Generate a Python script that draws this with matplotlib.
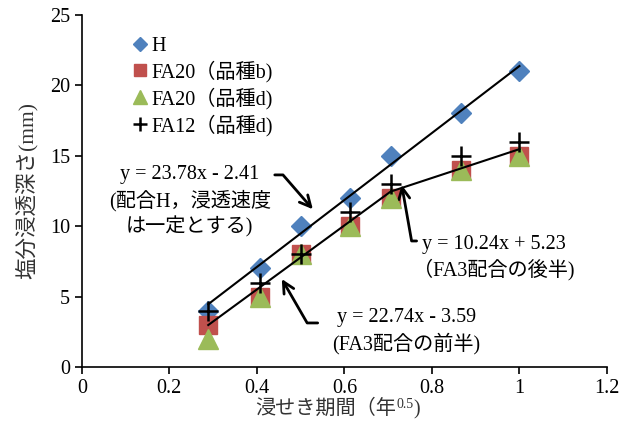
import numpy as np
from matplotlib import pyplot as plt

plt.rcParams['font.family'] = ['Liberation Serif', 'Noto Sans CJK JP']

# data
t = [0.289, 0.408, 0.5, 0.612, 0.707, 0.866, 1.0]
H = [4, 7, 10, 12, 15, 18, 21]
FA20_b = [3, 5, 8, 10, 12, 14, 15]
FA20_d = [2, 5, 8, 10, 12, 14, 15]
FA12_d = [4, 6, 8, 11, 13, 15, 16]

# trend lines (slope, intercept)
fit_H = (23.78, -2.41)
fit_first = (22.74, -3.59)
fit_second = (10.24, 5.23)

fig = plt.figure(figsize=(6.29, 4.38), dpi=100)
ax = fig.add_axes([0.130, 0.162, 0.835, 0.804])

ax.plot(t, H, 'D', color='#4F81BD', ms=10, mec='#4F81BD', label='H', zorder=3)
ax.plot(t, FA20_b, 's', color='#C0504D', ms=13, mec='#C0504D', label='FA20（品種b)', zorder=3)
ax.plot(t, FA20_d, '^', color='#9BBB59', ms=14, mec='#9BBB59', label='FA20（品種d)', zorder=4)
ax.plot(t, FA12_d, '+', color='black', ms=15, mew=1.8, label='FA12（品種d)', zorder=5)

# trend lines
xa = np.array([t[0], t[-1]])
ax.plot(xa, fit_H[0] * xa + fit_H[1], color='black', lw=1.5, zorder=6)
xb = np.array([t[0], t[4]])
ax.plot(xb, fit_first[0] * xb + fit_first[1], color='black', lw=1.5, zorder=6)
xc = np.array([t[4], t[-1]])
ax.plot(xc, fit_second[0] * xc + fit_second[1], color='black', lw=1.5, zorder=6)

# annotations
fs = 14.5
arrow = dict(arrowstyle='->', lw=2, color='black', shrinkA=0, shrinkB=0, mutation_scale=20)
ax.text(0.247, 11.75, 'y = 23.78x - 2.41\n(配合H，浸透速度\nは一定とする)', fontsize=fs,
        ha='center', va='center', linespacing=1.32)
ax.annotate('', xy=(0.528, 11.2), xytext=(0.441, 13.64),
            arrowprops=dict(arrow, connectionstyle='angle,angleA=0,angleB=-49,rad=0'))

ax.text(0.941, 7.75, 'y = 10.24x + 5.23\n（FA3配合の後半)', fontsize=fs,
        ha='center', va='center', linespacing=1.32)
ax.annotate('', xy=(0.731, 12.93), xytext=(0.765, 8.95),
            arrowprops=dict(arrow, connectionstyle='angle,angleA=180,angleB=100,rad=0'))

ax.text(0.742, 2.55, 'y = 22.74x - 3.59\n(FA3配合の前半)', fontsize=fs,
        ha='center', va='center', linespacing=1.32)
ax.annotate('', xy=(0.457, 6.25), xytext=(0.539, 3.13),
            arrowprops=dict(arrow, connectionstyle='angle,angleA=180,angleB=120,rad=0'))

ax.set_xlim(0, 1.2)
ax.set_ylim(0, 25)
ax.set_xticks(np.arange(0, 1.21, 0.2))
ax.set_xticklabels(['0', '0.2', '0.4', '0.6', '0.8', '1', '1.2'])
ax.set_yticks(range(0, 26, 5))
ax.tick_params(labelsize=14.5, direction='out', length=5, width=1.2)
ax.spines['top'].set_visible(False)
ax.spines['right'].set_visible(False)
ax.spines['left'].set_linewidth(1.2)
ax.spines['bottom'].set_linewidth(1.2)

ax.set_ylabel('塩分浸透深さ(mm)', fontsize=15.5, color='#333333', labelpad=9)

# x label with superscript, built from pieces
lab_col = '#333333'
y_base = 1 - 414 / 438
parts = [('浸せき期間（年', 14.5, 0.0), ('0.5', 10, 6.0), (')', 14.5, 0.0)]
texts = [fig.text(0, y_base, s, fontsize=f, color=lab_col, va='baseline') for s, f, r in parts]
fig.canvas.draw()
r = fig.canvas.get_renderer()
widths = [tx.get_window_extent(r).width for tx in texts]
x_px = 338 - sum(widths) / 2
for tx, w, (s, f, rise) in zip(texts, widths, parts):
    tx.set_position((x_px / 629, y_base + rise / 438))
    x_px += w

ax.legend(loc='upper left', bbox_to_anchor=(0.06, 0.99), frameon=False, fontsize=14.5,
          handletextpad=0.1, handlelength=0.9, labelspacing=0.25, markerscale=0.7)

fig.savefig('out.png', dpi=100)
